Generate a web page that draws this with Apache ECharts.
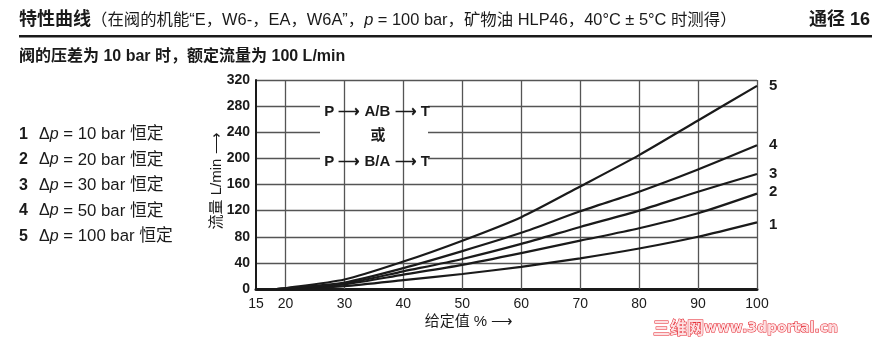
<!DOCTYPE html>
<html><head><meta charset="utf-8">
<script src="https://cdn.jsdelivr.net/npm/echarts@6/dist/echarts.min.js"></script>
<style>html,body{margin:0;padding:0;background:#fff}#c{width:875px;height:341px}</style>
</head><body><div id="c"></div>
<script>
// ---- data ----
const setpoints = [18.5, 20, 30, 40, 50, 60, 70, 80, 90, 100];
const flow10bar  = [0, 0.5, 4.5, 13.5, 23, 34, 47, 62, 80, 102];
const flow20bar  = [0, 0.7, 7, 22, 37, 55, 74, 93, 116, 146];
const flow30bar  = [0, 0.8, 8, 27, 46, 69, 95, 120, 149, 176];
const flow50bar  = [0, 1, 10, 32, 58, 86, 119, 149, 183, 220];
const flow100bar = [0, 1.2, 14.5, 42, 74, 110, 157, 205, 258, 311];
const curveNames = ['1', '2', '3', '4', '5'];
const legendTexts = ['10 bar 恒定', '20 bar 恒定', '30 bar 恒定', '50 bar 恒定', '100 bar 恒定'];
const xTickLabels = [15, 20, 30, 40, 50, 60, 70, 80, 90, 100];
const xGridValues = [20, 30, 40, 50, 60, 70, 80, 90, 100];

const LAT = '"Liberation Sans","Noto Sans CJK SC",sans-serif';
const chart = echarts.init(document.getElementById('c'), null, {renderer: 'canvas'});

const allFlows = [flow10bar, flow20bar, flow30bar, flow50bar, flow100bar];
const labelOffsets = [[4, 2], [4, -2], [4, 0], [4, 0], [4, 0]];
const series = allFlows.map((arr, i) => ({
  name: curveNames[i],
  type: 'line',
  data: setpoints.map((x, j) => [x, arr[j]]),
  smooth: 0.25,
  symbol: 'none',
  lineStyle: {color: '#1a1a1a', width: 2.2},
  endLabel: {show: true, formatter: '{a}', color: '#1a1a1a', fontFamily: LAT, fontWeight: 'bold', fontSize: 15, offset: labelOffsets[i]},
  z: 5
}));
series.push({
  type: 'line', data: [], silent: true, z: 1,
  markLine: {
    silent: true, symbol: 'none', label: {show: false},
    lineStyle: {color: '#555', width: 1.3, type: 'solid'},
    data: xGridValues.map(v => ({xAxis: v}))
  }
});

const legendGraphics = legendTexts.map((t, i) => ({
  type: 'text', left: 19, top: 126 + i * 25.5, z: 10,
  style: {
    text: '{n|' + curveNames[i] + '}{s| }{d|Δ}{i|p}{t| = ' + t + '}',
    rich: {
      n: {fontFamily: LAT, fontWeight: 'bold', fontSize: 16, fill: '#1a1a1a', width: 20},
      s: {fontSize: 2, width: 0},
      d: {fontFamily: LAT, fontSize: 16, fill: '#1a1a1a'},
      i: {fontFamily: LAT, fontStyle: 'italic', fontSize: 16, fill: '#1a1a1a'},
      t: {fontFamily: LAT, fontSize: 16.8, fill: '#1a1a1a'}
    }
  }
}));

chart.setOption({
  animation: false,
  backgroundColor: '#fff',
  grid: {left: 256, right: 118, top: 80, bottom: 52, containLabel: false},
  xAxis: {
    type: 'value', min: 15, max: 100, interval: 5,
    axisLine: {show: true, lineStyle: {color: '#1a1a1a', width: 3}},
    axisTick: {show: false},
    splitLine: {show: false},
    axisLabel: {
      color: '#1a1a1a', fontFamily: LAT, fontSize: 14, margin: 8,
      formatter: v => (xTickLabels.indexOf(v) >= 0 ? String(v) : '')
    }
  },
  yAxis: {
    type: 'value', min: 0, max: 320, interval: 40,
    axisLine: {show: true, lineStyle: {color: '#1a1a1a', width: 2}},
    axisTick: {show: false},
    splitLine: {show: true, lineStyle: {color: '#555', width: 1.3}},
    axisLabel: {color: '#1a1a1a', fontFamily: LAT, fontWeight: 'bold', fontSize: 14, margin: 6}
  },
  series: series,
  graphic: [
    {type: 'text', left: 19, top: 11, z: 10, style: {
      text: '{b|特性曲线}{n|（在阀的机能“E，W6-，EA，W6A”，}{i|p}{n| = 100 bar，矿物油 HLP46，40°C ± 5°C 时测得）}',
      rich: {
        b: {fontFamily: LAT, fontWeight: 'bold', fontSize: 18, fill: '#1a1a1a'},
        n: {fontFamily: LAT, fontSize: 16.4, fill: '#1a1a1a'},
        i: {fontFamily: LAT, fontStyle: 'italic', fontSize: 16.4, fill: '#1a1a1a'}
      }}},
    {type: 'text', right: 5, top: 11, z: 10, style: {text: '通径 16', font: 'bold 18px ' + LAT, fill: '#1a1a1a'}},
    {type: 'rect', shape: {x: 19, y: 35, width: 853, height: 2.5}, style: {fill: '#1a1a1a'}},
    {type: 'text', left: 19, top: 49, z: 10, style: {text: '阀的压差为 10 bar 时，额定流量为 100 L/min', font: 'bold 16px ' + LAT, fill: '#1a1a1a'}},
    ...legendGraphics,
    {type: 'text', x: 217, y: 181, rotation: Math.PI / 2, z: 10, style: {text: '流量 L/min ⟶', font: '15px ' + LAT, fill: '#1a1a1a', align: 'center', verticalAlign: 'middle'}},
    {type: 'rect', shape: {x: 320, y: 102, width: 108, height: 68}, style: {fill: '#fff'}, z: 3},
    {type: 'text', x: 377, y: 112, z: 10, style: {text: 'P ⟶ A/B ⟶ T', font: 'bold 15px ' + LAT, fill: '#1a1a1a', align: 'center', verticalAlign: 'middle'}},
    {type: 'text', x: 378, y: 136, z: 10, style: {text: '或', font: 'bold 15px ' + LAT, fill: '#1a1a1a', align: 'center', verticalAlign: 'middle'}},
    {type: 'text', x: 377, y: 162, z: 10, style: {text: 'P ⟶ B/A ⟶ T', font: 'bold 15px ' + LAT, fill: '#1a1a1a', align: 'center', verticalAlign: 'middle'}},
    {type: 'text', x: 469, y: 322, z: 10, style: {text: '给定值 % ⟶', font: '15px ' + LAT, fill: '#1a1a1a', align: 'center', verticalAlign: 'middle'}},
    {type: 'text', x: 653, y: 328, z: 10, style: {
      text: '{c|三维网}{l|www.3dportal.cn}', align: 'left', verticalAlign: 'middle',
      rich: {
        c: {fontFamily: '"Noto Sans CJK SC",sans-serif', fontWeight: 'bold', fontSize: 17, fill: '#fde0e2', stroke: '#e3141e', lineWidth: 1},
        l: {fontFamily: '"DejaVu Sans",sans-serif', fontWeight: 'bold', fontSize: 14, fill: '#fde0e2', stroke: '#e3141e', lineWidth: 1}
      }}}
  ]
});
</script></body></html>
